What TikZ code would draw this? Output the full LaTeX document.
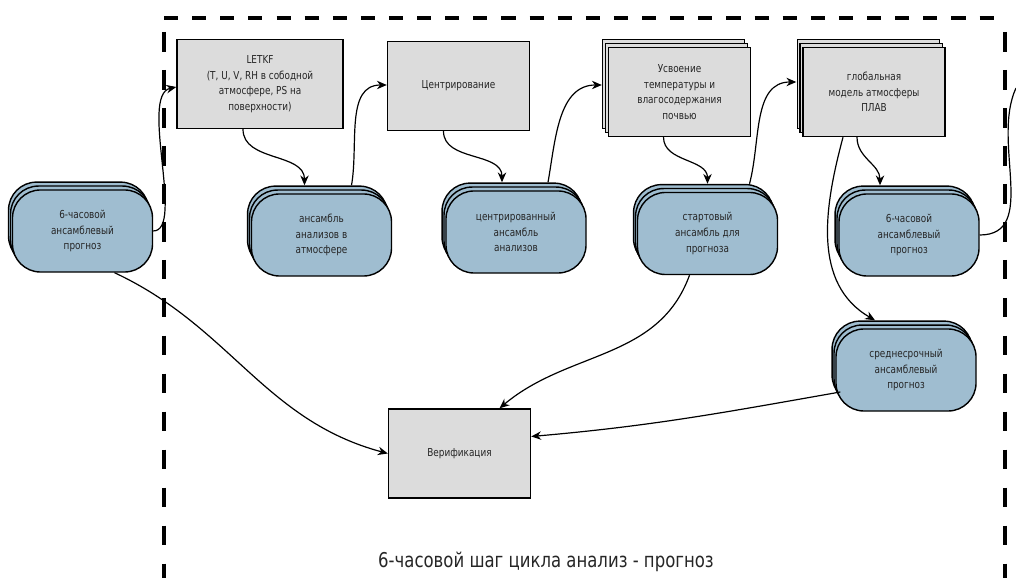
\documentclass[tikz,border=0pt]{standalone}
\usepackage{fontspec}
\setmainfont[FakeStretch=0.9]{DejaVu Sans Condensed}
\usetikzlibrary{arrows.meta,shadows,calc}
\definecolor{boxgray}{RGB}{220,220,220}
\definecolor{ensblue}{RGB}{159,189,208}
\tikzset{
  proc/.style={draw=black,line width=1pt,fill=boxgray,minimum width=3.55cm,minimum height=2.225cm,
    align=center,text=black!85,font=\fontsize{7.8}{11.1}\selectfont},
  procstack/.style={proc,
    copy shadow={fill=boxgray,draw=black,line width=0.8pt,shadow xshift=-4.2pt,shadow yshift=5.6pt},
    copy shadow={fill=boxgray,draw=black,line width=0.8pt,shadow xshift=-2.1pt,shadow yshift=2.8pt}},
  ens/.style={draw=black,line width=1pt,fill=ensblue,rounded corners=0.7cm,minimum width=3.5cm,
    minimum height=2.05cm,align=center,text=black!85,font=\fontsize{7.8}{11.1}\selectfont,
    copy shadow={fill=ensblue,draw=black,line width=1pt,shadow xshift=-2.8pt,shadow yshift=5.6pt},
    copy shadow={fill=ensblue,draw=black,line width=1pt,shadow xshift=-1.4pt,shadow yshift=2.8pt}},
  link/.style={line width=0.85pt,-{Stealth[length=7pt,width=6pt]}},
  frameline/.style={line width=2.3pt}
}
\begin{document}
\begin{tikzpicture}[x=0.025cm,y=0.025cm]
 \useasboundingbox (0,0) rectangle (1016,577);
 % frame of one cycle
 \draw[frameline,dash pattern=on 10pt off 10pt] (164,559) -- (1005,559);
 \draw[frameline,dash pattern=on 14pt off 13pt] (164,545) -- (164,-10);
 \draw[frameline,dash pattern=on 14pt off 13pt] (1005,545) -- (1005,-10);
 % processes
 \node[proc,minimum width=4.15cm] (letkf) at (260,493) {LETKF\\(T, U, V, RH в cободной\\атмосфере, PS на\\поверхности)};
 \node[proc] (centr) at (458.5,491) {Центрирование};
 \node[procstack] (usv) at (679.5,485) {Усвоение\\температуры и\\влагосодержания\\почвью};
 \node[procstack] (glob) at (874,485) {глобальная\\модель атмосферы\\ПЛАВ};
 \node[proc] (verif) at (459.5,123.5) {Верификация};
 % ensembles
 \node[ens] (fcl) at (82.5,346) {6-часовой\\ансамблевый\\прогноз};
 \node[ens] (ensatm) at (321.5,342) {ансамбль\\анализов в\\атмосфере};
 \node[ens] (centrens) at (516,345) {центрированный\\ансамбль\\анализов};
 \node[ens] (startens) at (707.5,343.5) {стартовый\\ансамбль для\\прогноза};
 \node[ens] (fcr) at (909,342) {6-часовой\\ансамблевый\\прогноз};
 \node[ens] (mid) at (906,207) {среднесрочный\\ансамблевый\\прогноз};
 \coordinate (fcrout) at (1016,489);
 \node[text=black!85,font=\fontsize{14.5}{16}\selectfont] (cap) at (546,15) {6-часовой шаг цикла анализ - прогноз};
 % connectors
 \draw[link] (fcl.east) .. controls +(32,0) and +(-37,-8) .. ($(letkf.west)+(0,-3)$);
 \draw[link] ($(letkf.south)+(-17,0)$) to[out=-90,in=90] ($(ensatm.north)+(-17,8)$);
 \draw[link] ($(ensatm.north)+(30,8)$) to[out=80,in=180] ($(centr.west)+(0,1)$);
 \draw[link] ($(centr.south)+(-15,0)$) to[out=-90,in=90] ($(centrens.north)+(-14,8)$);
 \draw[link] ($(centrens.north)+(32,8)$) to[out=80,in=180] ($(usv.west)+(-6,7)$);
 \draw[link] ($(usv.south)+(-16,0)$) to[out=-90,in=90] ($(startens.north)+(0,8)$);
 \draw[link] ($(startens.north)+(42,8)$) to[out=75,in=180] ($(glob.west)+(-6,10)$);
 \draw[link] ($(glob.south)+(-17,0)$) to[out=-90,in=90] ($(fcr.north)+(-29,8)$);
 \draw[link] ($(glob.south)+(-31,0)$) to[out=-105,in=150] ($(mid.north)+(-31,8)$);
 \draw[line width=0.85pt] (fcr.east) to[out=0,in=-115] (fcrout);
 \draw[link] ($(fcl.south)+(32,0)$) to[out=-25,in=165] (verif.west);
 \draw[link] ($(startens.south)+(-18,0)$) to[out=-110,in=40] ($(verif.north)+(40,0)$);
 \draw[link] ($(mid.west)+(5,-22)$) to[out=190,in=5] ($(verif.east)+(0,17)$);
\end{tikzpicture}
\end{document}
